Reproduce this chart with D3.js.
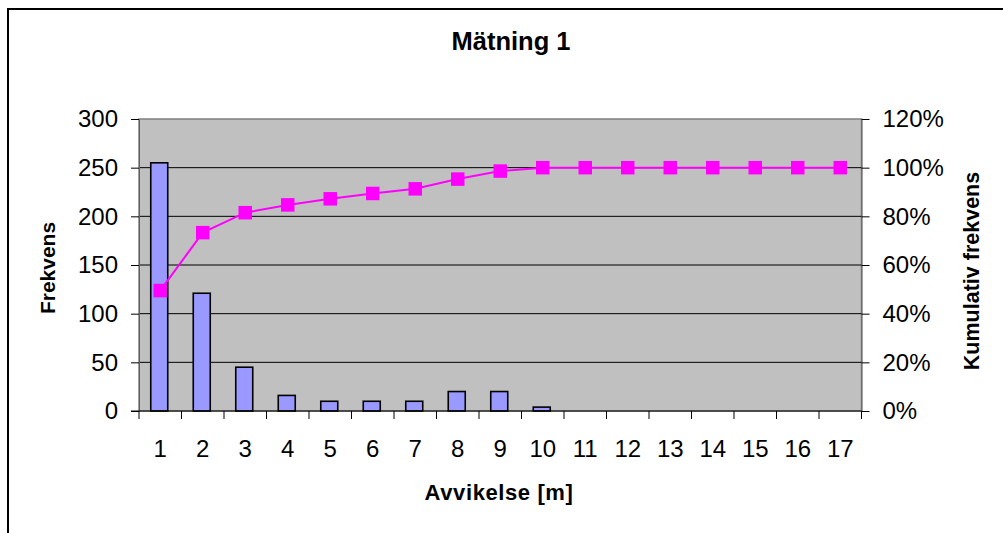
<!DOCTYPE html>
<html>
<head>
<meta charset="utf-8">
<script src="https://cdn.jsdelivr.net/npm/d3@7/dist/d3.min.js"></script>
<style>
  body { margin: 0; background: #fff; }
  svg { display: block; font-family: "Liberation Sans", Arial, sans-serif; }
</style>
</head>
<body>
<svg id="chart" width="1003" height="533"></svg>
<script>
// data
var categories = d3.range(1, 18).map(String);
var freq = [255, 121, 45, 16, 10, 10, 10, 20, 20, 4, 0, 0, 0, 0, 0, 0, 0];
var cumulative = [0.495, 0.733, 0.815, 0.847, 0.872, 0.894, 0.913, 0.953, 0.986, 1, 1, 1, 1, 1, 1, 1, 1];
var leftTicks = [0, 50, 100, 150, 200, 250, 300];
var rightTicks = [0, 0.2, 0.4, 0.6, 0.8, 1.0, 1.2];

var svg = d3.select('#chart');
var pl = 139, pr = 861.5, pt = 119, pb = 411;

// outer chart frame (runs off the right and bottom edges)
svg.append('rect').attr('x', 8).attr('y', 9).attr('width', 1100).attr('height', 700)
    .attr('fill', '#fff').attr('stroke', '#000').attr('stroke-width', 2);

var x = d3.scaleBand().domain(categories).range([pl, pr]);
var y = d3.scaleLinear().domain([0, 300]).range([pb, pt]);
var y2 = d3.scaleLinear().domain([0, 1.2]).range([pb, pt]);

// plot area
svg.append('rect').attr('x', pl).attr('y', pt).attr('width', pr - pl).attr('height', pb - pt)
    .attr('fill', '#c0c0c0').attr('stroke', '#808080').attr('stroke-width', 1.5);

// gridlines
svg.selectAll('line.grid').data(leftTicks.filter(d => d > 0 && d < 300)).enter().append('line')
    .attr('class', 'grid')
    .attr('x1', pl).attr('x2', pr)
    .attr('y1', d => y(d)).attr('y2', d => y(d))
    .attr('stroke', '#000').attr('stroke-width', 1);

// bars
var bw = x.bandwidth() * 0.4;
svg.selectAll('rect.bar').data(freq).enter().append('rect')
    .attr('class', 'bar')
    .filter(d => d > 0)
    .attr('x', (d, i) => x(categories[i]) + x.bandwidth() / 2 - bw / 2 - 1)
    .attr('y', d => y(d))
    .attr('width', bw)
    .attr('height', d => pb - y(d))
    .attr('fill', '#9999ff').attr('stroke', '#000').attr('stroke-width', 1.6);

// cumulative line
var cx = (d, i) => x(categories[i]) + x.bandwidth() / 2;
svg.append('path').datum(cumulative)
    .attr('fill', 'none').attr('stroke', '#ff00ff').attr('stroke-width', 2)
    .attr('d', d3.line().x(cx).y(d => y2(d)));

var ms = 13.5;
svg.selectAll('rect.marker').data(cumulative).enter().append('rect')
    .attr('class', 'marker')
    .attr('x', (d, i) => cx(d, i) - ms / 2)
    .attr('y', d => y2(d) - ms / 2)
    .attr('width', ms).attr('height', ms)
    .attr('fill', '#ff00ff');

// axes
function styleAxis(g) {
    g.selectAll('path.domain').attr('stroke', '#000').attr('stroke-width', 1);
    g.selectAll('.tick line').attr('stroke', '#000');
    g.selectAll('text').attr('font-size', 24).attr('fill', '#000')
        .attr('font-family', '"Liberation Sans", Arial, sans-serif');
}

svg.append('g').attr('transform', 'translate(' + pl + ',0)')
    .call(d3.axisLeft(y).tickValues(leftTicks).tickSize(8).tickPadding(13).tickSizeOuter(0))
    .call(styleAxis)
    .call(g => g.select('path.domain').attr('stroke', '#606060'));

svg.append('g').attr('transform', 'translate(' + pr + ',0)')
    .call(d3.axisRight(y2).tickValues(rightTicks).tickFormat(d3.format('.0%')).tickSize(8).tickPadding(13).tickSizeOuter(0))
    .call(styleAxis)
    .call(g => g.select('path.domain').attr('stroke', '#606060'));

// bottom axis: ticks at category boundaries, labels at centres
var gx = svg.append('g').attr('transform', 'translate(0,' + pb + ')');
gx.append('line').attr('x1', pl - 8).attr('x2', pr).attr('stroke', '#000');
gx.selectAll('line.tk').data(categories.concat(['end'])).enter().append('line')
    .attr('class', 'tk')
    .attr('x1', (d, i) => pl + i * x.step()).attr('x2', (d, i) => pl + i * x.step())
    .attr('y1', 0).attr('y2', 8).attr('stroke', '#000');
gx.selectAll('text').data(categories).enter().append('text')
    .attr('x', d => x(d) + x.bandwidth() / 2)
    .attr('y', 46)
    .attr('text-anchor', 'middle')
    .attr('font-size', 24)
    .text(d => d);

// titles
svg.append('text').attr('x', 511).attr('y', 50).attr('text-anchor', 'middle')
    .attr('font-size', 25.5).attr('font-weight', 'bold').text('Mätning 1');

svg.append('text').attr('x', 499).attr('y', 500).attr('text-anchor', 'middle')
    .attr('font-size', 22).attr('letter-spacing', 0.6).attr('font-weight', 'bold').text('Avvikelse [m]');

svg.append('text').attr('transform', 'translate(55,268) rotate(-90)').attr('text-anchor', 'middle')
    .attr('font-size', 21).attr('font-weight', 'bold').text('Frekvens');

svg.append('text').attr('transform', 'translate(979,271) rotate(-90)').attr('text-anchor', 'middle')
    .attr('font-size', 21.5).attr('font-weight', 'bold').text('Kumulativ frekvens');
</script>
</body>
</html>
